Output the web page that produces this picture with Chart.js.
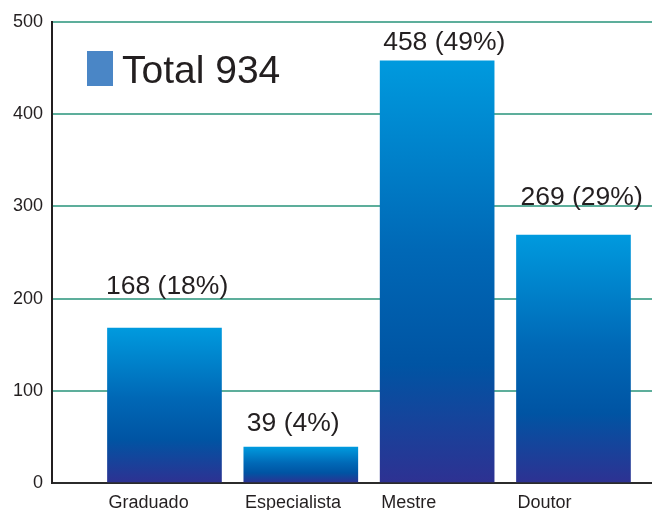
<!DOCTYPE html>
<html>
<head>
<meta charset="utf-8">
<script src="https://cdn.jsdelivr.net/npm/chart.js@4.4.1/dist/chart.umd.min.js"></script>
<style>
  html, body { margin: 0; padding: 0; background: #fff; }
  #wrap { width: 652px; height: 510px; }
</style>
</head>
<body>
<div id="wrap"><canvas id="grafico" width="652" height="510"></canvas></div>
<script>
const categorias = ['Graduado', 'Especialista', 'Mestre', 'Doutor'];
const quantidade = [168, 39, 458, 269];
const percentual = [18, 4, 49, 29];
const rotuloTotal = 'Total 934';
const ticksY = [0, 100, 200, 300, 400, 500];

const fonte = "'Liberation Sans', Arial, Helvetica, sans-serif";
const corTexto = '#231f20';

// degrade de cada barra, do topo ate a base
function gradienteBarra(context) {
  const chart = context.chart;
  if (!chart.chartArea || !context.parsed) return '#0068b6';
  const y = chart.scales.y;
  const topo = y.getPixelForValue(context.parsed.y);
  const base = y.getPixelForValue(0);
  const g = chart.ctx.createLinearGradient(0, topo, 0, base);
  g.addColorStop(0, '#009ade');
  g.addColorStop(0.45, '#0068b6');
  g.addColorStop(0.72, '#0054a3');
  g.addColorStop(1, '#2e3192');
  return g;
}

const rotulosBarras = {
  id: 'rotulosBarras',
  afterDatasetsDraw(chart, args, opts) {
    const ctx = chart.ctx;
    const meta = chart.getDatasetMeta(0);
    ctx.save();
    ctx.font = '26.5px ' + fonte;
    ctx.fillStyle = corTexto;
    ctx.textAlign = 'left';
    ctx.textBaseline = 'alphabetic';
    meta.data.forEach((bar, i) => {
      const esquerda = bar.x - bar.width / 2;
      ctx.fillText(quantidade[i] + ' (' + percentual[i] + '%)', esquerda + opts.dx[i], bar.y - opts.dy[i]);
    });
    ctx.restore();
  }
};

const legendaTotal = {
  id: 'legendaTotal',
  afterDraw(chart) {
    const ctx = chart.ctx;
    const area = chart.chartArea;
    ctx.save();
    ctx.fillStyle = '#4a86c6';
    ctx.fillRect(area.left + 35, area.top + 29, 26, 35);
    ctx.font = '39px ' + fonte;
    ctx.fillStyle = corTexto;
    ctx.textAlign = 'left';
    ctx.textBaseline = 'alphabetic';
    ctx.fillText(rotuloTotal, area.left + 70, area.top + 61);
    ctx.restore();
  }
};

const dados = {
  datasets: [{
    label: rotuloTotal,
    data: categorias.map((c, i) => ({ x: i + 1, y: quantidade[i] })),
    backgroundColor: gradienteBarra,
    borderWidth: 0,
    barThickness: 114
  }]
};

const config = {
  type: 'bar',
  data: dados,
  plugins: [rotulosBarras, legendaTotal],
  options: {
    responsive: false,
    devicePixelRatio: 1,
    animation: false,
    layout: { padding: { top: 22, right: 0, bottom: 0, left: 0 } },
    scales: {
      x: {
        type: 'linear',
        offset: false,
        min: 0.175,
        max: 4.576,
        grid: { display: false, offset: false, drawTicks: false },
        border: { display: true, color: '#2b2b2b', width: 2 },
        afterBuildTicks(scale) {
          scale.ticks = categorias.map((c, i) => ({ value: i + 1 - 0.41 }));
        },
        afterFit(scale) { scale.height = 27; },
        ticks: {
          align: 'start',
          autoSkip: false,
          maxRotation: 0,
          padding: 9,
          color: corTexto,
          font: { family: fonte, size: 18 },
          callback: (v, i) => categorias[i]
        }
      },
      y: {
        min: 0,
        max: 500,
        afterBuildTicks(scale) {
          scale.ticks = ticksY.map(v => ({ value: v }));
        },
        afterFit(scale) { scale.width = 52; },
        grid: {
          color: (c) => (c.tick && c.tick.value === 0) ? 'rgba(0,0,0,0)' : '#5dae9b',
          lineWidth: 2,
          drawTicks: false
        },
        border: { display: true, color: '#231f20', width: 2 },
        ticks: {
          padding: 9,
          color: corTexto,
          font: { family: fonte, size: 18 }
        }
      }
    },
    plugins: {
      legend: { display: false },
      tooltip: { enabled: false },
      rotulosBarras: { dx: [-1.5, 3, 3, 4], dy: [34, 16, 11, 30] }
    }
  }
};

const grafico = new Chart(document.getElementById('grafico'), config);
</script>
</body>
</html>
